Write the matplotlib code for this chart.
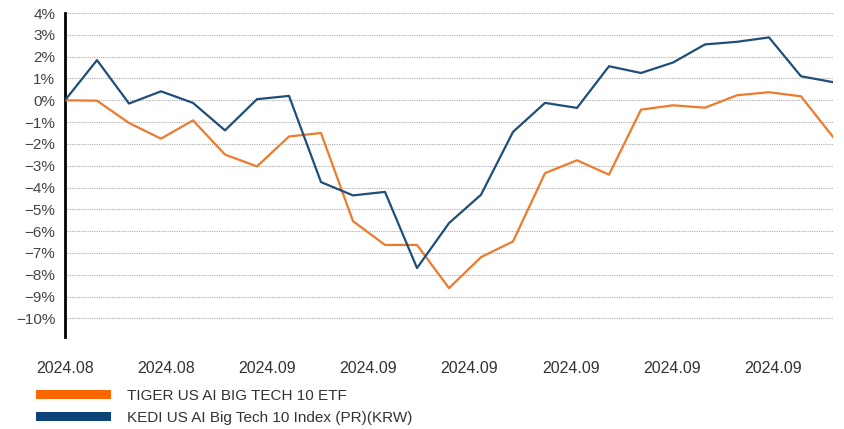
import matplotlib
matplotlib.use("Agg")
import matplotlib.pyplot as plt
from matplotlib.patches import Patch
import numpy as np

plt.rcParams['font.family'] = ['Liberation Sans Narrow', 'Liberation Sans', 'DejaVu Sans']

series_names = ["TIGER US AI BIG TECH 10 ETF", "KEDI US AI Big Tech 10 Index (PR)(KRW)"]
tiger = [0.0, -0.02, -1.04, -1.76, -0.92, -2.49, -3.03, -1.66, -1.5, -5.54,
         -6.63, -6.63, -8.61, -7.19, -6.47, -3.34, -2.75, -3.41, -0.43, -0.23,
         -0.34, 0.23, 0.37, 0.18, -1.68]
kedi = [0.0, 1.84, -0.15, 0.41, -0.12, -1.38, 0.05, 0.2, -3.75, -4.36,
        -4.2, -7.69, -5.63, -4.33, -1.45, -0.12, -0.35, 1.56, 1.25, 1.73,
        2.56, 2.68, 2.88, 1.10, 0.83]
x_labels = ["2024.08", "2024.08", "2024.09", "2024.09", "2024.09", "2024.09", "2024.09", "2024.09"]
y_ticks = list(range(-10, 5))

orange_line = "#EE7A2C"
blue_line = "#1F4E79"
orange_leg = "#FF6600"
blue_leg = "#0A4478"

W, H = 844, 429
fig = plt.figure(figsize=(W / 100, H / 100), dpi=100)
ax = fig.add_axes([65 / W, 1 - 337 / H, (833 - 65) / W, (337 - 13) / H])

x = np.arange(len(tiger))
ax.plot(x, tiger, color=orange_line, lw=1.6, zorder=3)
ax.plot(x, kedi, color=blue_line, lw=1.6, zorder=4)

ax.set_xlim(0, len(tiger) - 1)
ax.set_ylim(-10.85, 4)
ax.set_yticks(y_ticks)
ax.set_yticklabels([f"{v}%".replace("-", "\u2212") for v in y_ticks])
ax.yaxis.grid(True, color="#ababab", linestyle=(0, (1, 1)), lw=0.8)
ax.set_axisbelow(True)

step = 3.16
ax.set_xticks([k * step for k in range(len(x_labels))])
ax.set_xticklabels(x_labels)

for s in ["top", "right", "bottom"]:
    ax.spines[s].set_visible(False)
ax.spines["left"].set_color("black")
ax.spines["left"].set_linewidth(2)

ax.tick_params(axis="y", length=0, pad=7, labelsize=11, labelcolor="#444444")
ax.tick_params(axis="x", length=0, pad=17, labelsize=11.5, labelcolor="#333333")

handles = [Patch(facecolor=orange_leg, edgecolor="none"),
           Patch(facecolor=blue_leg, edgecolor="none")]
fig.legend(handles, series_names, loc="upper left",
           bbox_to_anchor=(36 / W, 1 - 389 / H), frameon=False,
           fontsize=11, handlelength=4.9, handleheight=0.5,
           handletextpad=1.05, labelspacing=0.5, borderpad=0,
           borderaxespad=0, labelcolor="#333333")

fig.savefig("out.png", dpi=100)
